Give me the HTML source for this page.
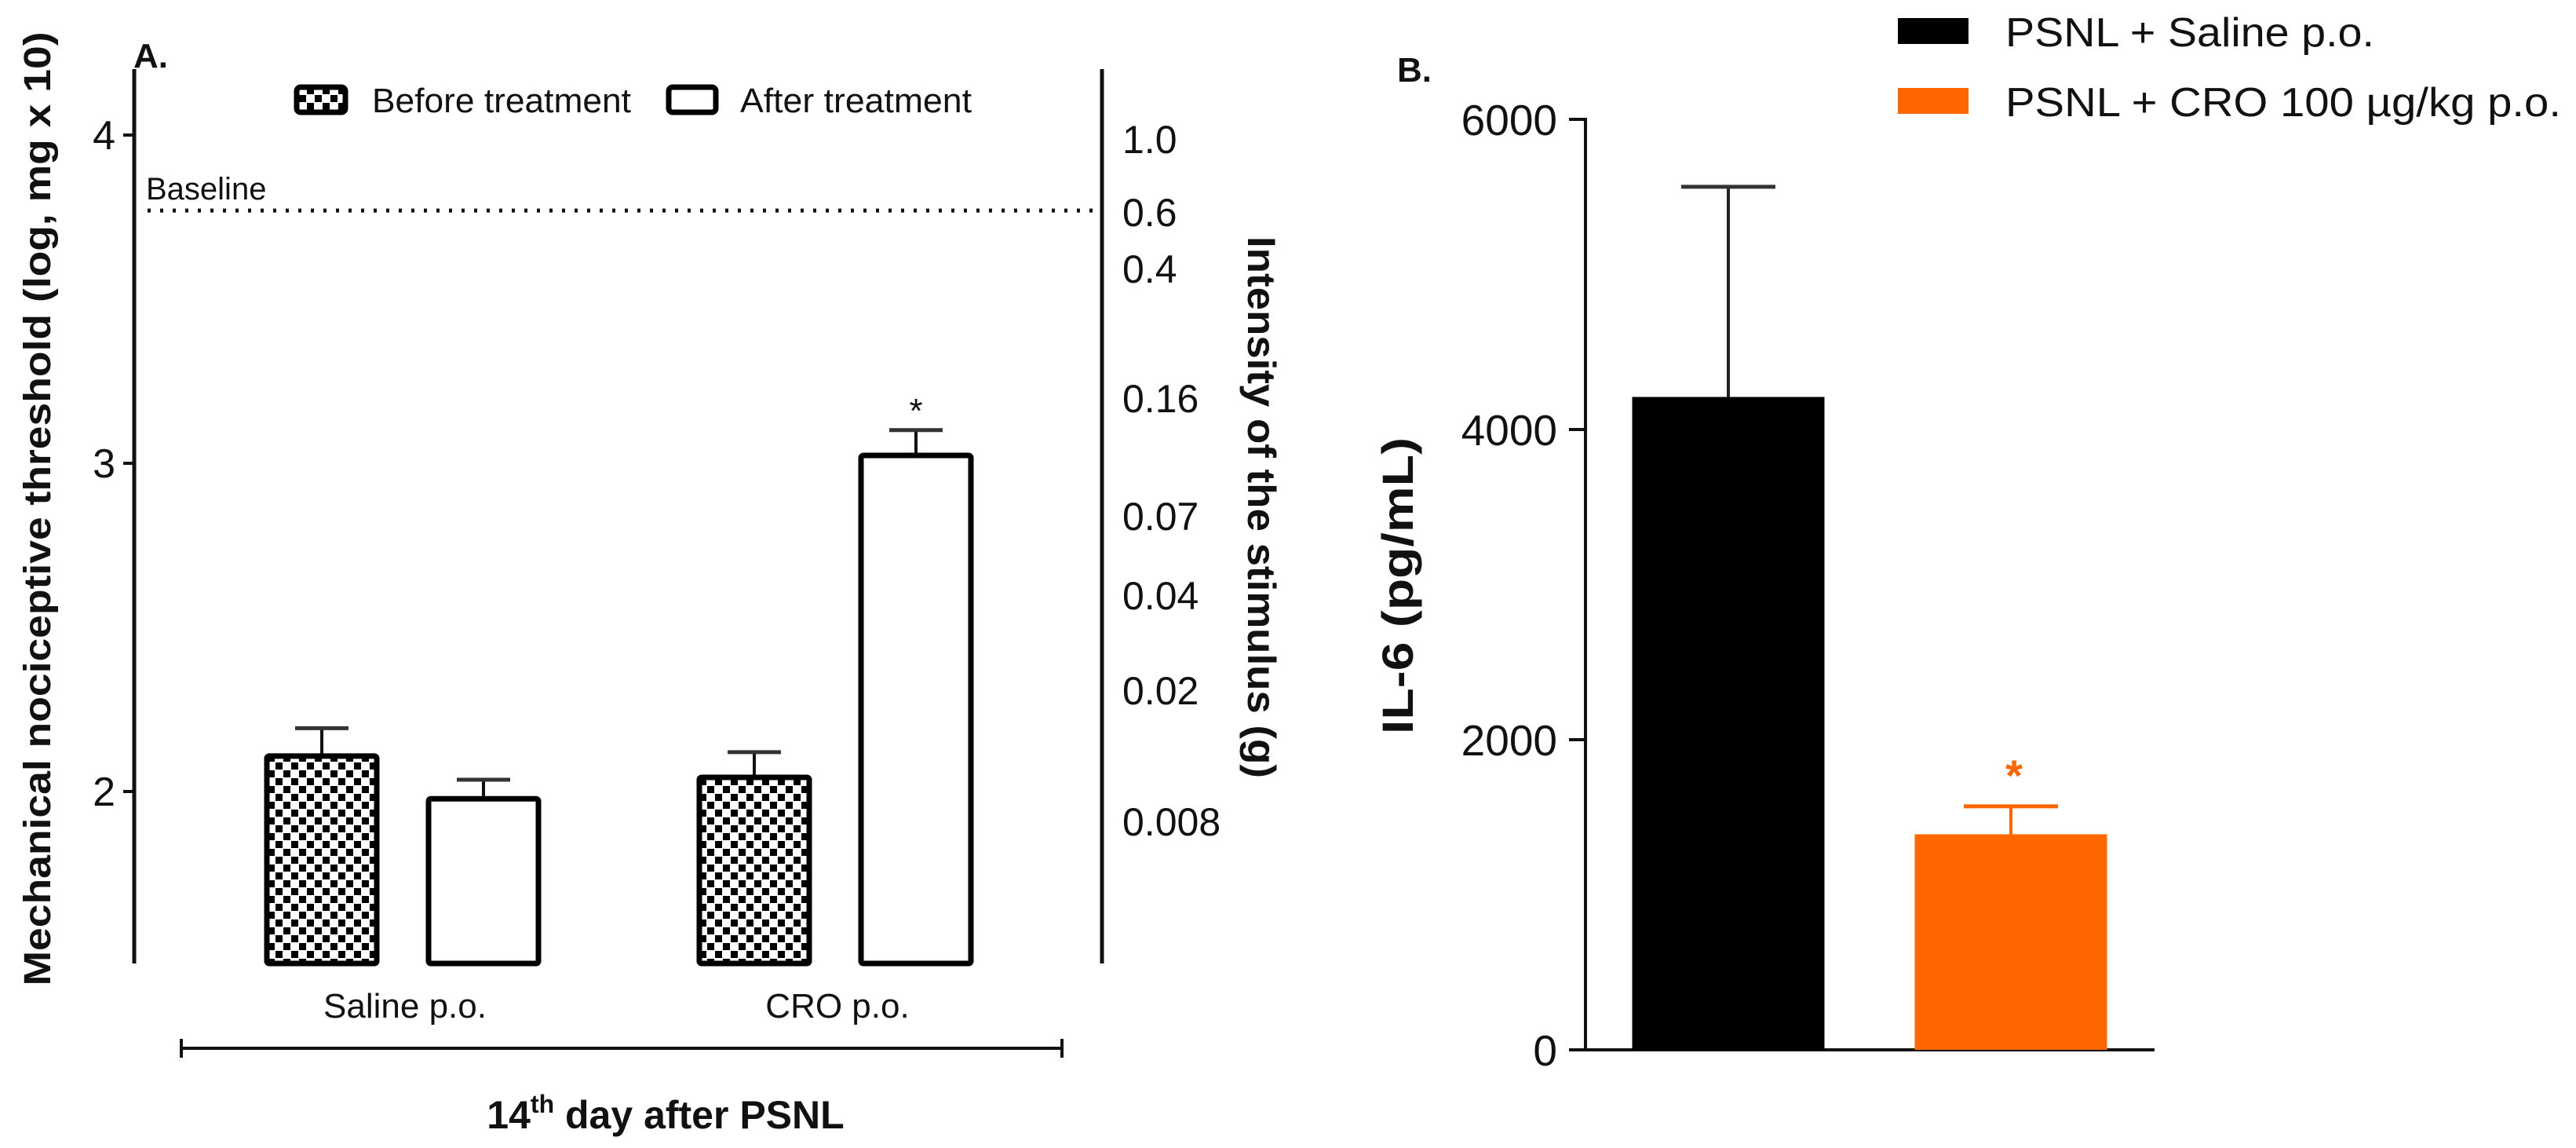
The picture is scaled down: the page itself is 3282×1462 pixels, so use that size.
<!DOCTYPE html>
<html><head><meta charset="utf-8"><style>
html,body{margin:0;padding:0;background:#fff}
svg{display:block}
text{font-family:"Liberation Sans",Arial,sans-serif;fill:#111}
</style></head><body>
<svg id="fig" width="3282" height="1462" viewBox="0 0 3282 1462" xmlns="http://www.w3.org/2000/svg">
<defs>
<pattern id="checker" width="20" height="20" patternUnits="userSpaceOnUse">
<rect width="20" height="20" fill="#fff"/>
<rect x="1" y="1" width="9" height="9" fill="#000"/>
<rect x="11" y="11" width="9" height="9" fill="#000"/>
</pattern>
</defs>
<g id="panelA"></g>
<g id="panelB"></g>
</svg>
<script>
// Panel A data
const aGroups = ["Saline p.o.", "CRO p.o."];
const aBefore = [2.108, 2.043];
const aBeforeErr = [0.085, 0.077];
const aAfter = [1.978, 3.024];
const aAfterErr = [0.058, 0.077];
const aLeftTicks = [2, 3, 4];
const aRightTickLabels = ["1.0", "0.6", "0.4", "0.16", "0.07", "0.04", "0.02", "0.008"];
const aBaseline = 3.77;
const aSignif = [false, true];
// Panel B data
const bCategories = ["PSNL + Saline p.o.", "PSNL + CRO 100 µg/kg p.o."];
const bValues = [4210, 1390];
const bErr = [1355, 180];
const bColors = ["#000000", "#FF6600"];
const bTicks = [0, 2000, 4000, 6000];
const bSignif = [false, true];

const NS = "http://www.w3.org/2000/svg";
function mk(parent, tag, attrs, text) {
  const e = document.createElementNS(NS, tag);
  for (const k in attrs) e.setAttribute(k, attrs[k]);
  if (text !== undefined) e.textContent = text;
  parent.appendChild(e);
  return e;
}
const A = document.getElementById('panelA');
const B = document.getElementById('panelB');

// ---- Panel A ----
const ayA = v => 1008 - (v - 2) * 418;
const axL = 171, axR = 1404, aBottom = 1227, aTop = 88;
let e;
e = mk(A, 'line', {x1: axL, y1: aTop, x2: axL, y2: aBottom, stroke: '#111', 'stroke-width': 5});


e = mk(A, 'line', {x1: axR, y1: aTop, x2: axR, y2: aBottom, stroke: '#111', 'stroke-width': 5});


aLeftTicks.forEach(t => {
  e = mk(A, 'line', {x1: 157, y1: ayA(t), x2: axL, y2: ayA(t), stroke: '#111', 'stroke-width': 4});
  
  
  e = mk(A, 'text', {x: 147, y: ayA(t) + 18, 'text-anchor': 'end', 'font-size': 52}, String(t));
  
  
});
aRightTickLabels.forEach((lab, i) => {
  const y = [177, 270, 342, 507, 657, 758, 879, 1046][i];
  e = mk(A, 'text', {x: 1430, y: y + 18, 'font-size': 50}, lab);
  
  
});
e = mk(A, 'line', {x1: 188, y1: ayA(aBaseline), x2: 1400, y2: ayA(aBaseline), stroke: '#111', 'stroke-width': 5, 'stroke-dasharray': '4 12'});


e = mk(A, 'text', {x: 186, y: ayA(aBaseline) - 14, 'font-size': 40}, 'Baseline');



const aBarW = 140, aCenters = [[410, 616], [961, 1167]];
function aBar(cx, v, err, fill, name, star) {
  const yt = ayA(v);
  const ye = ayA(v + err);
  e = mk(A, 'line', {x1: cx, y1: ye, x2: cx, y2: yt, stroke: '#111', 'stroke-width': 4});
  
  
  e = mk(A, 'line', {x1: cx - 34, y1: ye, x2: cx + 34, y2: ye, stroke: '#333', 'stroke-width': 5});
  
  
  e = mk(A, 'rect', {x: cx - aBarW / 2, y: yt, width: aBarW, height: aBottom - yt, fill: fill, stroke: '#000', 'stroke-width': 7, rx: 3});
  
  
  if (star) {
    e = mk(A, 'text', {x: cx, y: ye - 10, 'text-anchor': 'middle', 'font-size': 44}, '*');
    
    
  }
}
aGroups.forEach((g, i) => {
  aBar(aCenters[i][0], aBefore[i], aBeforeErr[i], 'url(#checker)', 'bar-before-' + i, false);
  aBar(aCenters[i][1], aAfter[i], aAfterErr[i], '#fff', 'bar-after-' + i, aSignif[i]);
  e = mk(A, 'text', {x: (aCenters[i][0] + aCenters[i][1]) / 2 + 3, y: 1296, 'text-anchor': 'middle', 'font-size': 44}, g);
  
  
});
e = mk(A, 'path', {d: 'M231,1323 V1347 M231,1335 H1353 M1353,1323 V1347', stroke: '#111', 'stroke-width': 4, fill: 'none'});


e = mk(A, 'text', {x: 848, y: 1437, 'text-anchor': 'middle', 'font-size': 50, 'font-weight': 'bold'});
e.innerHTML = '14<tspan font-size="32" dy="-20">th</tspan><tspan dy="20"> day after PSNL</tspan>';


e = mk(A, 'text', {transform: 'translate(64,648) rotate(-90)', 'text-anchor': 'middle', 'font-size': 48, 'font-weight': 'bold', textLength: 1215, lengthAdjust: 'spacingAndGlyphs'}, 'Mechanical nociceptive threshold (log, mg x 10)');


e = mk(A, 'text', {transform: 'translate(1590,646) rotate(90)', 'text-anchor': 'middle', 'font-size': 50, 'font-weight': 'bold', textLength: 690, lengthAdjust: 'spacingAndGlyphs'}, 'Intensity of the stimulus (g)');


e = mk(A, 'text', {x: 170, y: 86, 'font-size': 44, 'font-weight': 'bold'}, 'A.');


e = mk(A, 'rect', {x: 378, y: 111, width: 62, height: 32, rx: 5, fill: 'url(#checker)', stroke: '#000', 'stroke-width': 7});


e = mk(A, 'text', {x: 474, y: 143, 'font-size': 44, textLength: 330, lengthAdjust: 'spacingAndGlyphs'}, 'Before treatment');


e = mk(A, 'rect', {x: 852, y: 111, width: 60, height: 32, rx: 5, fill: '#fff', stroke: '#000', 'stroke-width': 7});


e = mk(A, 'text', {x: 943, y: 143, 'font-size': 44, textLength: 295, lengthAdjust: 'spacingAndGlyphs'}, 'After treatment');



// ---- Panel B ----
const byB = v => 1337 - v * 0.1975;
const bAx = 2020;
e = mk(B, 'line', {x1: bAx, y1: byB(6000) - 2, x2: bAx, y2: byB(0) + 2, stroke: '#111', 'stroke-width': 4});


e = mk(B, 'line', {x1: bAx, y1: byB(0), x2: 2745, y2: byB(0), stroke: '#111', 'stroke-width': 4});


bTicks.forEach(t => {
  e = mk(B, 'line', {x1: 1999, y1: byB(t), x2: bAx, y2: byB(t), stroke: '#111', 'stroke-width': 4});
  
  
  e = mk(B, 'text', {x: 1984, y: byB(t) + 20, 'text-anchor': 'end', 'font-size': 55}, String(t));
  
  
});
const bCenters = [2202, 2562], bW = 245;
bValues.forEach((v, i) => {
  const cx = bCenters[i], yt = byB(v), ye = byB(v + bErr[i]);
  e = mk(B, 'line', {x1: cx, y1: ye, x2: cx, y2: yt, stroke: bColors[i] === '#000000' ? '#222' : bColors[i], 'stroke-width': 4});
  
  
  e = mk(B, 'line', {x1: cx - 60, y1: ye, x2: cx + 60, y2: ye, stroke: bColors[i] === '#000000' ? '#333' : bColors[i], 'stroke-width': 5});
  
  
  e = mk(B, 'rect', {x: cx - bW / 2, y: yt, width: bW, height: byB(0) - yt, fill: bColors[i]});
  
  
  if (bSignif[i]) {
    e = mk(B, 'text', {x: cx + 4, y: ye - 20, 'text-anchor': 'middle', 'font-size': 56, 'font-weight': 'bold', style: 'fill:' + bColors[i]}, '*');
    
    
  }
  e = mk(B, 'rect', {x: 2418, y: [23, 112][i], width: 90, height: 33, fill: bColors[i]});
  
  
  e = mk(B, 'text', {x: 2555, y: [59, 148][i], 'font-size': 52, textLength: [470, 708][i], lengthAdjust: 'spacingAndGlyphs'}, bCategories[i]);
  
  
});
e = mk(B, 'text', {transform: 'translate(1800,746) rotate(-90)', 'text-anchor': 'middle', 'font-size': 56, 'font-weight': 'bold', textLength: 378, lengthAdjust: 'spacingAndGlyphs'}, 'IL-6 (pg/mL)');


e = mk(B, 'text', {x: 1780, y: 104, 'font-size': 44, 'font-weight': 'bold'}, 'B.');


</script>
</body></html>
